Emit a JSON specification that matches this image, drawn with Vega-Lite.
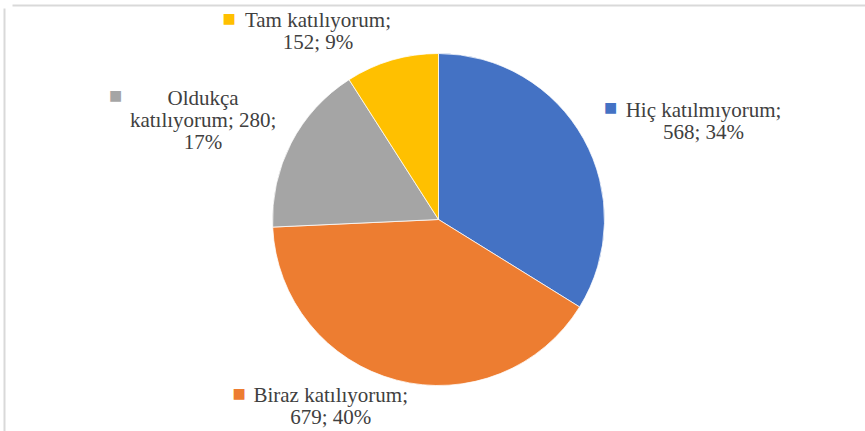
{
  "$schema": "https://vega.github.io/schema/vega-lite/v6.json",
  "autosize": "none",
  "width": 853,
  "height": 423,
  "padding": {"left": 12, "top": 8, "right": 0, "bottom": 0},
  "background": "white",
  "view": {"stroke": null},
  "data": {"values": [
    {"cat": "Hiç katılmıyorum", "value": 568, "order": 1, "label": "Hiç katılmıyorum;\n568; 34%"},
    {"cat": "Biraz katılıyorum", "value": 679, "order": 2, "label": "Biraz katılıyorum;\n679; 40%"},
    {"cat": "Oldukça katılıyorum", "value": 280, "order": 3, "label": "Oldukça\nkatılıyorum; 280;\n17%"},
    {"cat": "Tam katılıyorum", "value": 152, "order": 4, "label": "Tam katılıyorum;\n152; 9%"}
  ]},
  "layer": [
    {
      "mark": {"type": "point", "opacity": 0},
      "encoding": {
        "x": {"field": "order", "type": "quantitative", "axis": {"orient": "top", "offset": 3, "domainColor": "#d9d9d9", "domainWidth": 2, "ticks": false, "labels": false, "grid": false, "title": null}},
        "y": {"field": "order", "type": "quantitative", "axis": {"orient": "left", "offset": 8, "domainColor": "#d9d9d9", "domainWidth": 2, "ticks": false, "labels": false, "grid": false, "title": null}}
      }
    },
    {
      "mark": {"type": "arc", "radius": 166, "stroke": "white", "strokeWidth": 0.75},
      "encoding": {
        "theta": {"field": "value", "type": "quantitative", "stack": true},
        "order": {"field": "order", "type": "quantitative"},
        "color": {"field": "cat", "type": "nominal", "legend": null,
          "scale": {"domain": ["Hiç katılmıyorum", "Biraz katılıyorum", "Oldukça katılıyorum", "Tam katılıyorum"],
                    "range": ["#4472C4", "#ED7D31", "#A5A5A5", "#FFC000"]}}
      }
    },
    {
      "mark": {"type": "text", "radius": 166, "dx": 120, "dy": -22, "align": "center", "baseline": "alphabetic", "lineBreak": "\n", "lineHeight": 22, "font": "Liberation Serif", "fontSize": 21, "fill": "#404040"},
      "encoding": {
        "theta": {"field": "value", "type": "quantitative", "stack": true},
        "order": {"field": "order", "type": "quantitative"},
        "text": {"condition": {"test": "datum.cat === 'Hiç katılmıyorum'", "field": "label"}, "value": ""}
      }
    },
    {
      "mark": {"type": "text", "radius": 166, "dx": -66, "dy": 21.5, "align": "center", "baseline": "alphabetic", "lineBreak": "\n", "lineHeight": 22, "font": "Liberation Serif", "fontSize": 21, "fill": "#404040"},
      "encoding": {
        "theta": {"field": "value", "type": "quantitative", "stack": true},
        "order": {"field": "order", "type": "quantitative"},
        "text": {"condition": {"test": "datum.cat === 'Biraz katılıyorum'", "field": "label"}, "value": ""}
      }
    },
    {
      "mark": {"type": "text", "radius": 166, "dx": -88, "dy": -38, "align": "center", "baseline": "alphabetic", "lineBreak": "\n", "lineHeight": 22, "font": "Liberation Serif", "fontSize": 21, "fill": "#404040"},
      "encoding": {
        "theta": {"field": "value", "type": "quantitative", "stack": true},
        "order": {"field": "order", "type": "quantitative"},
        "text": {"condition": {"test": "datum.cat === 'Oldukça katılıyorum'", "field": "label"}, "value": ""}
      }
    },
    {
      "mark": {"type": "text", "radius": 166, "dx": -74, "dy": -33, "align": "center", "baseline": "alphabetic", "lineBreak": "\n", "lineHeight": 22, "font": "Liberation Serif", "fontSize": 21, "fill": "#404040"},
      "encoding": {
        "theta": {"field": "value", "type": "quantitative", "stack": true},
        "order": {"field": "order", "type": "quantitative"},
        "text": {"condition": {"test": "datum.cat === 'Tam katılıyorum'", "field": "label"}, "value": ""}
      }
    },
    {
      "mark": {"type": "text", "radius": 166, "dx": 27, "dy": -30.4, "align": "center", "baseline": "middle", "font": "DejaVu Sans", "fontSize": 14},
      "encoding": {
        "theta": {"field": "value", "type": "quantitative", "stack": true},
        "order": {"field": "order", "type": "quantitative"},
        "text": {"condition": {"test": "datum.cat === 'Hiç katılmıyorum'", "value": "■"}, "value": ""},
        "color": {"field": "cat", "type": "nominal", "legend": null}
      }
    },
    {
      "mark": {"type": "text", "radius": 166, "dx": -157.7, "dy": 13.9, "align": "center", "baseline": "middle", "font": "DejaVu Sans", "fontSize": 14},
      "encoding": {
        "theta": {"field": "value", "type": "quantitative", "stack": true},
        "order": {"field": "order", "type": "quantitative"},
        "text": {"condition": {"test": "datum.cat === 'Biraz katılıyorum'", "value": "■"}, "value": ""},
        "color": {"field": "cat", "type": "nominal", "legend": null}
      }
    },
    {
      "mark": {"type": "text", "radius": 166, "dx": -175.6, "dy": -47.1, "align": "center", "baseline": "middle", "font": "DejaVu Sans", "fontSize": 14},
      "encoding": {
        "theta": {"field": "value", "type": "quantitative", "stack": true},
        "order": {"field": "order", "type": "quantitative"},
        "text": {"condition": {"test": "datum.cat === 'Oldukça katılıyorum'", "value": "■"}, "value": ""},
        "color": {"field": "cat", "type": "nominal", "legend": null}
      }
    },
    {
      "mark": {"type": "text", "radius": 166, "dx": -162.9, "dy": -40.7, "align": "center", "baseline": "middle", "font": "DejaVu Sans", "fontSize": 14},
      "encoding": {
        "theta": {"field": "value", "type": "quantitative", "stack": true},
        "order": {"field": "order", "type": "quantitative"},
        "text": {"condition": {"test": "datum.cat === 'Tam katılıyorum'", "value": "■"}, "value": ""},
        "color": {"field": "cat", "type": "nominal", "legend": null}
      }
    }
  ]
}
